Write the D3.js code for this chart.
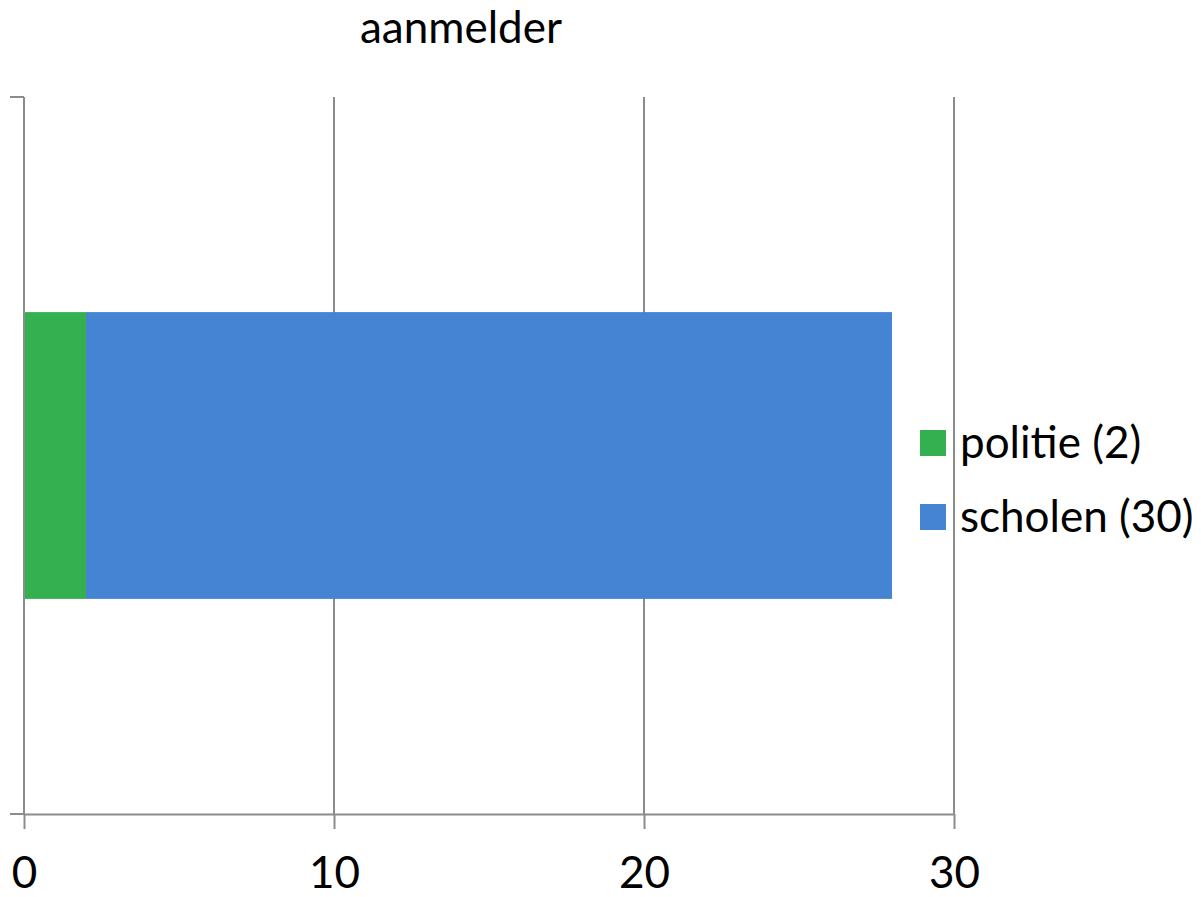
<!DOCTYPE html>
<html>
<head>
<meta charset="utf-8">
<script src="https://cdn.jsdelivr.net/npm/d3@7"></script>
<style>
  body { margin: 0; background: #fff; }
  text { font-family: Lato, "Open Sans", sans-serif; fill: #000; }
</style>
</head>
<body>
<div id="chart"></div>
<script>
// data
const categories = ["aanmelder"];
const seriesNames = ["politie", "scholen"];
const legendLabels = ["politie (2)", "scholen (30)"];
const politie = [2];
const scholen = [26];
const xTicks = [0, 10, 20, 30];
const colors = ["#34b050", "#4584d3"];

const W = 1201, H = 897;
const margin = { top: 97, right: 247, bottom: 83, left: 24 };
const w = W - margin.left - margin.right;
const h = H - margin.top - margin.bottom;

const svg = d3.select("#chart").append("svg")
    .attr("width", W)
    .attr("height", H);

const g = svg.append("g")
    .attr("transform", `translate(${margin.left},${margin.top})`);

const x = d3.scaleLinear().domain([0, 30]).range([0, w]);
const y = d3.scaleBand().domain(categories).range([0, h]).paddingInner(0).paddingOuter(0.75);

const rows = categories.map((c, i) => ({ cat: c, politie: politie[i], scholen: scholen[i] }));
const stacked = d3.stack().keys(seriesNames)(rows);

// gridlines
g.selectAll("line.grid")
    .data(xTicks.slice(1))
    .enter().append("line")
    .attr("class", "grid")
    .attr("x1", d => x(d)).attr("x2", d => x(d))
    .attr("y1", 0).attr("y2", h)
    .attr("stroke", "#8c8c8c")
    .attr("stroke-width", 2);

// bars
g.selectAll("g.series")
    .data(stacked)
    .enter().append("g")
    .attr("class", "series")
    .attr("fill", (d, i) => colors[i])
    .selectAll("rect")
    .data(d => d)
    .enter().append("rect")
    .attr("x", d => x(d[0]))
    .attr("width", d => x(d[1]) - x(d[0]))
    .attr("y", d => y(d.data.cat))
    .attr("height", y.bandwidth());

// x axis
const xAxis = g.append("g")
    .attr("transform", `translate(0,${h})`)
    .call(d3.axisBottom(x).tickValues(xTicks).tickSize(15).tickPadding(28).tickSizeOuter(0));
xAxis.select(".domain").attr("stroke", "#8c8c8c").attr("stroke-width", 2);
xAxis.selectAll(".tick line").attr("stroke", "#8c8c8c").attr("stroke-width", 2);
xAxis.selectAll("text")
    .style("font-size", "44px")
    .style("font-family", "Lato, 'Open Sans', sans-serif")
    .attr("fill", "#000");

// y axis (category axis, ticks at band edges)
const yAxis = g.append("g");
yAxis.append("line")
    .attr("x1", 0).attr("x2", 0).attr("y1", 0).attr("y2", h)
    .attr("stroke", "#8c8c8c").attr("stroke-width", 2);
yAxis.selectAll("line.ytick")
    .data([0, h])
    .enter().append("line")
    .attr("class", "ytick")
    .attr("x1", -14).attr("x2", 0)
    .attr("y1", d => d).attr("y2", d => d)
    .attr("stroke", "#8c8c8c").attr("stroke-width", 2);

// title
svg.append("text")
    .attr("x", 461)
    .attr("y", 43)
    .attr("text-anchor", "middle")
    .style("font-size", "44px")
    .text(categories[0]);

// legend
const legend = svg.append("g")
    .attr("transform", "translate(920,430)");
const item = legend.selectAll("g")
    .data(legendLabels)
    .enter().append("g")
    .attr("transform", (d, i) => `translate(0,${i * 74})`);
item.append("rect")
    .attr("width", 26).attr("height", 26)
    .attr("fill", (d, i) => colors[i]);
item.append("text")
    .attr("x", 40)
    .attr("y", 28)
    .style("font-size", "44px")
    .text(d => d);
</script>
</body>
</html>
